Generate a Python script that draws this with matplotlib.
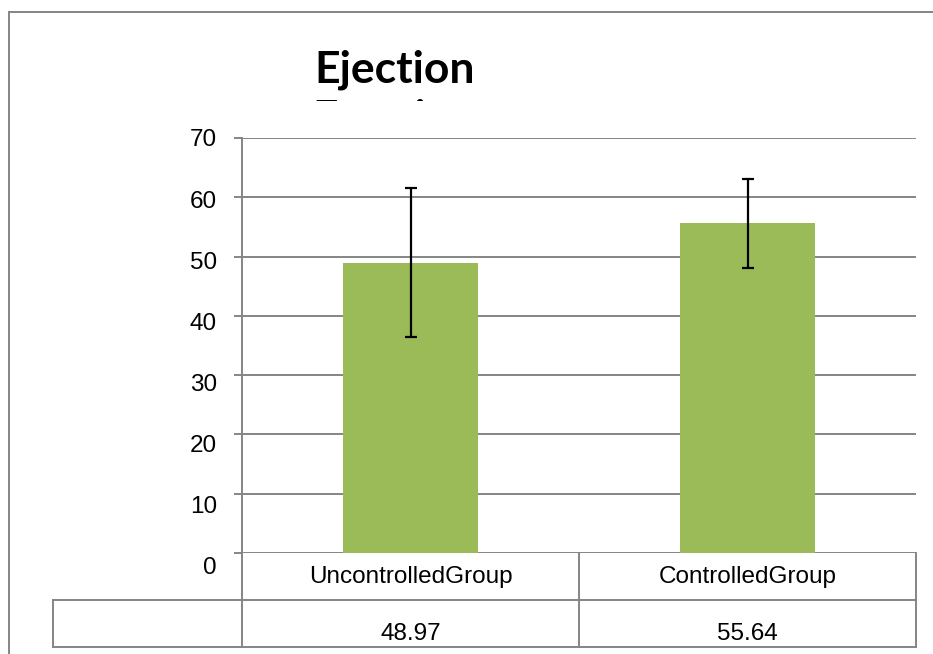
import matplotlib
matplotlib.use("Agg")
import matplotlib.pyplot as plt
import matplotlib.transforms as mtransforms
from matplotlib.lines import Line2D
import numpy as np

# ---- data ----
categories = ["UncontrolledGroup", "ControlledGroup"]
values = [48.97, 55.64]
errors = [12.6, 7.5]
yticks = [0, 10, 20, 30, 40, 50, 60, 70]
title_lines = ["Ejection", "Fraction"]

W, H = 933, 654
def fx(px):
    return px / W
def fy(py):
    return 1 - py / H

GRID = "#858585"
BAR = "#9BBB59"
FONT = "Liberation Sans"
FS = 17.5

fig = plt.figure(figsize=(W / 100, H / 100), dpi=100)
fig.patch.set_facecolor("white")

# main plot area
ax = fig.add_axes([fx(242), fy(553), fx(916) - fx(242), fy(138) - fy(553)])
x = np.arange(len(categories))
ax.bar(x, values, width=0.40, color=BAR, zorder=2)
ax.errorbar(x, values, yerr=errors, fmt="none", ecolor="black",
            elinewidth=1.6, capsize=4.5, capthick=1.6, zorder=3)
ax.set_xlim(-0.5, len(categories) - 0.5)
ax.set_ylim(0, 70)
ax.set_yticks(yticks)
ax.yaxis.grid(True, color=GRID, lw=1.4)
ax.set_axisbelow(True)
for s in ["top", "right", "bottom"]:
    ax.spines[s].set_visible(False)
ax.spines["left"].set_color(GRID)
ax.spines["left"].set_linewidth(1.4)
ax.tick_params(axis="y", length=6, width=1.4, color=GRID, labelleft=False, direction="out")
ax.set_xticks([])
ax.patch.set_alpha(0)

# y tick labels (Excel places them with slightly wider spacing)
lab = fig.add_axes([fx(242), fy(566), 0.0005, fy(138) - fy(566)])
lab.set_ylim(0, 70)
lab.set_yticks(yticks)
lab.set_yticklabels([str(v) for v in yticks], fontsize=FS, family=FONT)
lab.tick_params(axis="y", length=0, pad=18)
lab.set_xticks([])
lab.set_frame_on(False)
lab.patch.set_alpha(0)

# data table
def fline(xs, ys, transform=fig.transFigure):
    fig.add_artist(Line2D(xs, ys, color=GRID, lw=1.4, transform=transform))

blend = mtransforms.blended_transform_factory(ax.transData, fig.transFigure)
edges = np.arange(len(categories) + 1) - 0.5
for e in edges:
    fline([e, e], [fy(553), fy(647)], transform=blend)
fline([fx(53), fx(916)], [fy(600), fy(600)])
fline([fx(53), fx(916)], [fy(647), fy(647)])
fline([fx(53), fx(53)], [fy(600), fy(647)])

for i, (c, v) in enumerate(zip(categories, values)):
    fig.text(i, fy(577), c, transform=blend, ha="center", va="center",
             fontsize=FS, family=FONT, color="black")
    fig.text(i, fy(634), f"{v:.2f}", transform=blend, ha="center", va="center",
             fontsize=FS, family=FONT, color="black")

# chart area border (top and left visible)
fline([fx(9), 1.0], [fy(12), fy(12)])
fline([fx(9), fx(9)], [fy(12), 0.0])

# title, clipped as in the original
clip = mtransforms.TransformedBbox(mtransforms.Bbox([[0, fy(101)], [1, 1]]), fig.transFigure)
for k, line in enumerate(title_lines):
    t = fig.text(fx(395), fy(83 + 49 * k), line, ha="center", va="baseline",
                 fontsize=32, fontweight="bold", family="Lato", color="black")
    t.set_clip_box(clip)
    t.set_clip_on(True)

fig.savefig("out.png", dpi=100, facecolor="white")
